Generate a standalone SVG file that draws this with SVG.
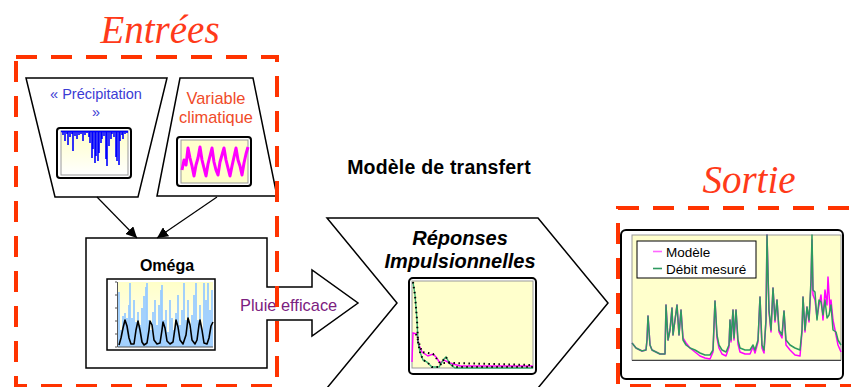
<svg xmlns="http://www.w3.org/2000/svg" width="851" height="387" viewBox="0 0 851 387">
<style>
.sh{fill:#fff;stroke:#000;stroke-width:1.5}
.dash{fill:none;stroke:#ff3300;stroke-width:4;stroke-dasharray:21 14}
.title{font-family:"Liberation Serif",serif;font-style:italic;font-size:39px;fill:#ff3a1a}
.sans{font-family:"Liberation Sans",Arial,sans-serif}
.frame{fill:#fff;stroke:#000;stroke-width:2}
.plot{stroke:#999;stroke-width:1}
.con{stroke:#000;stroke-width:1.2;fill:none}
</style>
<defs>
<linearGradient id="gy" x1="0" y1="0" x2="0" y2="1">
<stop offset="0" stop-color="#ffffc8"/><stop offset="1" stop-color="#ffffff"/>
</linearGradient>
<marker id="ah" viewBox="0 0 10 10" refX="10" refY="5" markerWidth="11" markerHeight="11" markerUnits="userSpaceOnUse" orient="auto">
<path d="M0,0 L10,5 L0,10 Z" fill="#000"/>
</marker>
</defs>

<text class="title" x="160" y="43" text-anchor="middle">Entrées</text>
<text class="title" x="749" y="193" text-anchor="middle">Sortie</text>
<text class="sans" x="439" y="174" text-anchor="middle" font-size="19.5" font-weight="bold" letter-spacing="0.2">Modèle de transfert</text>

<g id="precipitation">
<polygon class="sh" points="26,78 167,78 138,197 55,197"/>
<text class="sans" x="96" y="99" text-anchor="middle" font-size="14.5" fill="#3b3bd4">« Précipitation</text>
<text class="sans" x="96" y="117" text-anchor="middle" font-size="14.5" fill="#3b3bd4">»</text>
<rect class="frame" x="57" y="128" width="74" height="50" rx="3"/>
<rect class="plot" x="61" y="131" width="67" height="44" fill="url(#gy)"/>
<path stroke="#0000ff" stroke-width="1.6" fill="none" d="M61,131.5H128 M63,131v4 M65,131v10 M67,131v3 M68,131v14 M70,131v6 M72,131v3 M73,131v20 M75,131v5 M77,131v8 M79,131v4 M81,131v3 M83,131v10 M85,131v4 M87,131v2 M89,131v6 M90,131v12 M92,131v27 M93,131v18 M95,131v32 M96,131v25 M98,131v30 M99,131v22 M101,131v12 M102,131v8 M104,131v5 M106,131v28 M107,131v35 M109,131v15 M111,131v8 M112,131v3 M114,131v6 M116,131v26 M117,131v30 M119,131v34 M120,131v10 M122,131v4 M123,131v8 M125,131v3 M127,131v2"/>
</g>

<g id="variable-climatique">
<polygon class="sh" points="180,78 253,78 277,196 157,196"/>
<text class="sans" x="216" y="104" text-anchor="middle" font-size="16.4" fill="#f04a28">Variable</text>
<text class="sans" x="216" y="123" text-anchor="middle" font-size="16.4" fill="#f04a28">climatique</text>
<rect class="frame" x="177" y="137" width="74" height="49" rx="3"/>
<rect class="plot" x="181" y="140" width="67" height="43" fill="#ffffcc"/>
<polyline fill="none" stroke="#ff00ff" stroke-width="3" stroke-linejoin="round" points="182,170 184,160 186,165 188,148 190,158 192,166 194,176 196,165 198,158 200,147 202,160 204,168 206,176 208,164 210,156 212,148 214,162 216,170 218,175 220,162 222,155 224,148 226,160 228,168 230,176 232,166 234,157 236,148 238,160 240,166 242,175 244,163 246,154 248,147"/>
</g>

<g id="omega">
<path class="sh" d="M86,238 H267 V287 H312 V270 L358,303 L312,336 V320 H267 V368 H86 Z"/>
<text class="sans" x="167" y="271" text-anchor="middle" font-size="16" font-weight="bold">Oméga</text>
<rect x="107" y="279" width="108" height="71" fill="#fff" stroke="#000" stroke-width="1.5"/>
<rect x="117" y="282" width="96" height="65" fill="url(#gy)"/>
<path stroke="#99ccff" stroke-width="1.8" fill="none" d="M119,347V292 M121,347V330 M123,347V316 M125,347V313 M127,347V318 M129,347V305 M130,347V283 M132,347V318 M134,347V300 M136,347V322 M138,347V312 M140,347V325 M142,347V308 M144,347V296 M146,347V287 M147,347V283 M149,347V320 M151,347V330 M153,347V312 M155,347V300 M157,347V325 M159,347V305 M161,347V290 M162,347V285 M164,347V320 M166,347V310 M168,347V332 M170,347V300 M172,347V318 M174,347V330 M176,347V313 M178,347V295 M180,347V325 M182,347V310 M184,347V283 M186,347V320 M188,347V300 M190,347V330 M192,347V315 M194,347V295 M196,347V283 M198,347V320 M200,347V305 M202,347V330 M204,347V283 M206,347V300 M208,347V283 M210,347V310 M212,347V290"/>
<path stroke="#555" stroke-width="1" fill="none" d="M117.5,282V347H213 M115,282h2 M115,295h2 M115,308h2 M115,321h2 M115,334h2 M115,347h2"/>
<polyline fill="none" stroke="#000" stroke-width="1.6" stroke-linejoin="round" points="119,345 121,338 123,328 125,320 127,326 129,338 131,344 134,344 136,330 138,321 140,330 142,342 144,345 147,343 149,330 150,321 152,325 154,340 157,344 160,343 162,330 163,322 165,328 167,341 170,344 173,342 175,328 176,320 178,327 180,340 183,344 186,335 188,318 190,325 192,340 195,344 197,340 199,325 200,320 202,330 204,343 207,344 209,338 211,326 213,322"/>
<text class="sans" x="240" y="311" font-size="16.4" fill="#7b2080">Pluie efficace</text>
</g>

<g id="reponses-impulsionnelles">
<polygon class="sh" points="327,218 538,218 608,303 538,388 327,388 397,303"/>
<text class="sans" x="460" y="245" text-anchor="middle" font-size="20" font-weight="bold" font-style="italic">Réponses</text>
<text class="sans" x="460" y="268" text-anchor="middle" font-size="20" font-weight="bold" font-style="italic">Impulsionnelles</text>
<rect class="frame" x="409" y="278" width="127" height="96" rx="4"/>
<rect class="plot" x="412" y="281" width="121" height="87" fill="#ffffcc"/>
<polyline fill="none" stroke="#ff00ff" stroke-width="1.4" points="412,362 413,333 417,334 419,345 422,352 428,356 433,354 436,357 440,363 444,360 450,363 460,366 533,366"/>
<polyline fill="none" stroke="#3cb371" stroke-width="1.4" points="413,282 415,295 417,320 418,342 420,352 423,360 427,362 432,367 439,367 444,359 446,357 450,364 455,368 533,368"/>
<path fill="none" stroke="#000" stroke-width="2" stroke-dasharray="1.5 3.5" d="M413,282 L415,295 L417,320 L418,342 L420,352 L423,360 L427,362 L432,367 L439,367 L444,359 L446,357 L450,364 L455,367 L533,367 M416,334 L422,352 L433,354 L440,363 L450,363 L533,365"/>
</g>

<g id="modele-debit">
<rect class="frame" x="621" y="230" width="222" height="149" rx="5"/>
<rect class="plot" x="632" y="235" width="209" height="125" fill="#ffffcc"/>
<polyline fill="none" stroke="#ff00ff" stroke-width="1.5" stroke-linejoin="round" points="632,343 636,348 642,351 646,350 647,340 648,316 650,345 652,350 660,354 665,354 666,305 668,340 670,330 672,308 673,335 675,320 677,305 679,335 681,310 683,338 686,343 690,348 695,352 700,356 705,358 710,359 713,352 715,301 717,338 719,348 722,354 726,356 729,347 730,320 731,342 733,310 734,340 736,310 738,344 740,352 745,354 750,354 753,347 755,353 758,342 760,297 762,348 764,353 766,320 767,235 769,312 771,332 773,288 775,322 777,300 779,332 782,338 784,311 786,345 790,350 795,355 800,356 802,332 803,297 805,332 807,307 809,322 811,285 812,240 813,295 815,300 817,318 819,305 821,295 823,320 825,290 827,305 828,277 830,310 831,300 833,320 836,335 838,345 841,352"/>
<polyline fill="none" stroke="#2e9960" stroke-width="1.5" stroke-linejoin="round" points="632,343 636,348 642,351 646,350 647,340 648,316 650,345 652,350 660,354 665,354 666,305 668,340 670,330 672,308 673,335 675,320 677,305 679,335 681,310 683,340 686,345 690,348 695,350 700,353 705,355 710,355 713,350 715,301 717,335 719,345 722,350 726,352 729,345 730,320 731,340 733,310 734,338 736,310 738,340 740,348 745,350 750,350 753,345 755,350 758,340 760,297 762,345 764,350 766,320 767,235 769,310 771,330 773,288 775,320 777,300 779,330 782,335 784,311 786,340 790,345 795,348 800,350 802,330 803,297 805,330 807,307 809,320 811,280 812,235 813,290 815,292 817,320 819,300 821,302 823,315 825,300 827,318 829,315 831,305 833,330 836,332 838,340 841,345"/>
<path stroke="#444" stroke-width="1" d="M632,360.5H841"/>
<rect x="637" y="241" width="119" height="37" fill="#fff" stroke="#000" stroke-width="1"/>
<path stroke="#ff66ff" stroke-width="1.6" d="M653,251.5h9"/>
<path stroke="#2e9960" stroke-width="1.6" d="M653,268.5h9"/>
<text class="sans" x="666" y="257" font-size="13.5">Modèle</text>
<text class="sans" x="666" y="274" font-size="13.5">Débit mesuré</text>
</g>

<g id="connectors">
<line class="con" x1="97" y1="197" x2="137" y2="238" marker-end="url(#ah)"/>
<line class="con" x1="217" y1="197" x2="157" y2="238" marker-end="url(#ah)"/>
</g>

<g id="groups">
<rect class="dash" x="16" y="57" width="261" height="329"/>
<rect class="dash" x="618" y="208" width="260" height="178"/>
</g>
</svg>
